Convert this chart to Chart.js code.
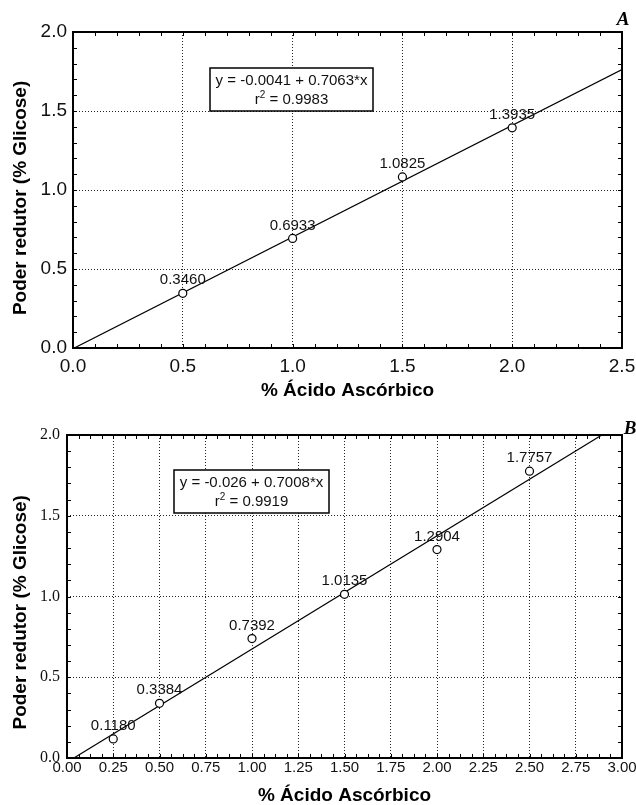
<!DOCTYPE html>
<html>
<head>
<meta charset="utf-8">
<script src="https://cdn.jsdelivr.net/npm/chart.js@4.4.1/dist/chart.umd.min.js"></script>
<style>
  body { margin: 0; background: #fff; }
  canvas { display: block; }
</style>
</head>
<body>
<canvas id="chartA" width="636" height="400"></canvas>
<canvas id="chartB" width="636" height="405"></canvas>
<script>
// Panel A data
const xA = [0.5, 1.0, 1.5, 2.0];
const yA = [0.3460, 0.6933, 1.0825, 1.3935];
const fitXA = [0, 2.5];
const fitYA = [-0.0041, 1.7617];
const xTicksA = [0, 0.5, 1.0, 1.5, 2.0, 2.5];
const yTicksA = [0, 0.5, 1.0, 1.5, 2.0];
const eqA = ['y = -0.0041 + 0.7063*x', '0.9983'];

// Panel B data
const xB = [0.25, 0.5, 1.0, 1.5, 2.0, 2.5];
const yB = [0.1180, 0.3384, 0.7392, 1.0135, 1.2904, 1.7757];
const fitXB = [0, 3.0];
const fitYB = [-0.026, 2.0764];
const xTicksB = [0, 0.25, 0.5, 0.75, 1.0, 1.25, 1.5, 1.75, 2.0, 2.25, 2.5, 2.75, 3.0];
const yTicksB = [0, 0.5, 1.0, 1.5, 2.0];
const eqB = ['y = -0.026 + 0.7008*x', '0.9919'];

const SANS = '"Liberation Sans", Arial, sans-serif';
const SERIF = '"Liberation Serif", "Times New Roman", serif';

// Frame, inner minor ticks, point labels, equation box and panel letter
const framePlugin = {
    id: 'frame',
    beforeDatasetsDraw(chart, args, opts) {
        const { ctx, chartArea: a, scales: { x, y } } = chart;
        ctx.save();
        ctx.strokeStyle = '#000';
        ctx.lineWidth = 1;
        ctx.beginPath();
        for (let v = x.min; v <= x.max + 1e-9; v += opts.minorX) {
            const px = Math.round(x.getPixelForValue(v)) + 0.5;
            ctx.moveTo(px, a.top); ctx.lineTo(px, a.top + 4);
            ctx.moveTo(px, a.bottom); ctx.lineTo(px, a.bottom - 4);
        }
        for (let v = y.min; v <= y.max + 1e-9; v += opts.minorY) {
            const py = Math.round(y.getPixelForValue(v)) + 0.5;
            ctx.moveTo(a.left, py); ctx.lineTo(a.left + 4, py);
            ctx.moveTo(a.right, py); ctx.lineTo(a.right - 4, py);
        }
        ctx.stroke();
        ctx.lineWidth = 2;
        ctx.strokeRect(a.left, a.top, a.width, a.height);
        ctx.restore();
    },
    afterDatasetsDraw(chart, args, opts) {
        const { ctx } = chart;
        const meta = chart.getDatasetMeta(0);
        const vals = chart.data.datasets[0].data;
        ctx.save();
        ctx.fillStyle = '#111';
        ctx.font = '15px ' + SANS;
        ctx.textAlign = 'center';
        ctx.textBaseline = 'middle';
        meta.data.forEach((pt, i) => {
            ctx.fillText(vals[i].y.toFixed(4), pt.x, pt.y - 13);
        });
        ctx.restore();
    },
    afterDraw(chart, args, opts) {
        const { ctx } = chart;
        const b = opts.box;
        ctx.save();
        ctx.fillStyle = '#fff';
        ctx.fillRect(b.x, b.y, b.w, b.h);
        ctx.strokeStyle = '#000';
        ctx.lineWidth = 1.5;
        ctx.strokeRect(b.x, b.y, b.w, b.h);
        ctx.fillStyle = '#111';
        ctx.textBaseline = 'middle';
        ctx.textAlign = 'center';
        ctx.font = '15px ' + SANS;
        const cx = b.x + b.w / 2;
        ctx.fillText(opts.eq[0], cx, b.y + b.h * 0.3);
        // r² line with raised 2
        const pre = 'r', post = ' = ' + opts.eq[1];
        const wPre = ctx.measureText(pre).width;
        const wPost = ctx.measureText(post).width;
        ctx.font = '10px ' + SANS;
        const wSup = ctx.measureText('2').width;
        let sx = cx - (wPre + wSup + wPost) / 2;
        const ly = b.y + b.h * 0.74;
        ctx.textAlign = 'left';
        ctx.font = '15px ' + SANS;
        ctx.fillText(pre, sx, ly);
        ctx.font = '10px ' + SANS;
        ctx.fillText('2', sx + wPre, ly - 5);
        ctx.font = '15px ' + SANS;
        ctx.fillText(post, sx + wPre + wSup, ly);
        // panel letter
        ctx.textAlign = 'center';
        ctx.font = 'italic bold 19px ' + SERIF;
        ctx.fillStyle = '#000';
        ctx.fillText(opts.letter, opts.letterX, opts.letterY);
        ctx.restore();
    }
};

function makeChart(id, cfg) {
    const ctx = document.getElementById(id).getContext('2d');
    return new Chart(ctx, {
        type: 'scatter',
        data: {
            datasets: [{
                data: cfg.xs.map((v, i) => ({ x: v, y: cfg.ys[i] })),
                pointRadius: 4,
                pointHoverRadius: 4,
                pointBackgroundColor: '#fff',
                pointBorderColor: '#000',
                pointBorderWidth: 1.2
            }, {
                type: 'line',
                data: cfg.fitX.map((v, i) => ({ x: v, y: cfg.fitY[i] })),
                borderColor: '#000',
                borderWidth: 1.2,
                pointRadius: 0,
                fill: false
            }]
        },
        plugins: [framePlugin],
        options: {
            responsive: false,
            animation: false,
            layout: { padding: { top: cfg.padTop, right: 14, left: 0, bottom: 0 } },
            plugins: {
                legend: { display: false },
                tooltip: { enabled: false },
                frame: cfg.frame
            },
            scales: {
                x: {
                    type: 'linear',
                    min: cfg.xTicks[0],
                    max: cfg.xTicks[cfg.xTicks.length - 1],
                    afterBuildTicks: s => { s.ticks = cfg.xTicks.map(v => ({ value: v })); },
                    afterFit: s => { s.height = cfg.xHeight; s.paddingLeft = 0; s.paddingRight = 0; },
                    grid: { color: '#222', lineWidth: 1, drawTicks: false },
                    border: { display: false, dash: [1, 2] },
                    ticks: {
                        color: '#111',
                        padding: cfg.xTickPad,
                        maxRotation: 0,
                        autoSkip: false,
                        font: { family: SANS, size: cfg.xTickSize },
                        callback: v => v.toFixed(cfg.xDigits)
                    },
                    title: {
                        display: true,
                        text: '% Ácido Ascórbico',
                        color: '#000',
                        padding: { top: 0, bottom: 0 },
                        font: { family: SANS, size: 19, weight: 'bold', lineHeight: 1 }
                    }
                },
                y: {
                    type: 'linear',
                    min: 0,
                    max: 2,
                    afterBuildTicks: s => { s.ticks = cfg.yTicks.map(v => ({ value: v })); },
                    afterFit: s => { s.width = cfg.yWidth; s.paddingTop = 0; s.paddingBottom = 0; },
                    grid: { color: '#222', lineWidth: 1, drawTicks: false },
                    border: { display: false, dash: [1, 2] },
                    ticks: {
                        color: '#111',
                        padding: cfg.yTickPad,
                        autoSkip: false,
                        font: { family: cfg.yTickFamily, size: cfg.yTickSize },
                        callback: v => v.toFixed(1)
                    },
                    title: {
                        display: true,
                        text: 'Poder redutor (% Glicose)' + cfg.titleTail,
                        color: '#000',
                        padding: { top: 11, bottom: 0 },
                        font: { family: SANS, size: 19, weight: 'bold', lineHeight: 1 }
                    }
                }
            }
        }
    });
}

makeChart('chartA', {
    xs: xA, ys: yA, fitX: fitXA, fitY: fitYA,
    xTicks: xTicksA, yTicks: yTicksA, xDigits: 1,
    padTop: 32, xHeight: 52, yWidth: 73,
    xTickPad: 7, xTickSize: 19, yTickPad: 6, yTickSize: 19, yTickFamily: SANS,
    titleTail: '   ',
    frame: {
        minorX: 0.1, minorY: 0.1, eq: eqA,
        box: { x: 210, y: 68, w: 163, h: 43 },
        letter: 'A', letterX: 623, letterY: 20
    }
});

makeChart('chartB', {
    xs: xB, ys: yB, fitX: fitXB, fitY: fitYB,
    xTicks: xTicksB, yTicks: yTicksB, xDigits: 2,
    padTop: 35, xHeight: 47, yWidth: 67,
    xTickPad: 1, xTickSize: 15, yTickPad: 7, yTickSize: 16, yTickFamily: SERIF,
    titleTail: '      ',
    frame: {
        minorX: 0.0625, minorY: 0.1, eq: eqB,
        box: { x: 174, y: 70, w: 155, h: 43 },
        letter: 'B', letterX: 630, letterY: 29
    }
});
</script>
</body>
</html>
